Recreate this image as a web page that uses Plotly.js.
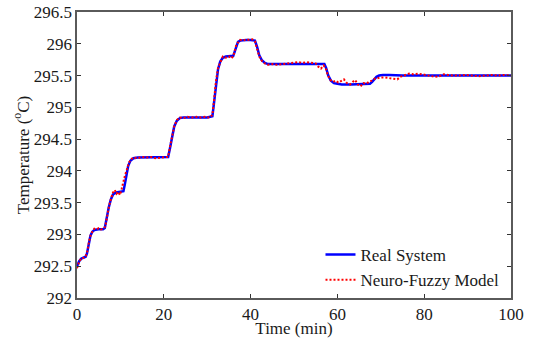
<!DOCTYPE html>
<html>
<head>
<meta charset="utf-8">
<script src="https://cdn.plot.ly/plotly-3.0.1.min.js"></script>
<style>html,body{margin:0;padding:0;background:#fff;}#chart{width:534px;height:338px;}</style>
</head>
<body>
<div id="chart"></div>
<script>
// Real System
const realTime = [0,0.5,1,1.5,2,2.3,2.7,3.1,3.5,4,5,6,6.4,6.8,7.3,7.8,8.3,9,10,10.7,11,11.4,11.8,12.3,13,14,16,18,20,21,21.4,21.9,22.4,23,23.7,24.5,26,28,30,31.2,31.6,32,32.5,33,33.6,34.3,35,36,36.3,36.7,37.1,37.6,38.3,39,40,41,41.5,42,42.6,43.3,44,45,50,55,57,57.4,57.9,58.5,59.2,60,61,63,65,67.5,68,68.5,69,69.6,70.5,72,75,80,85,90,95,100];
const realTemp = [292.50,292.58,292.62,292.64,292.65,292.70,292.85,292.98,293.04,293.07,293.08,293.08,293.10,293.25,293.42,293.55,293.63,293.66,293.67,293.68,293.78,293.95,294.08,294.16,294.20,294.21,294.21,294.21,294.21,294.22,294.35,294.55,294.70,294.79,294.83,294.84,294.84,294.84,294.84,294.86,295.10,295.40,295.60,295.72,295.78,295.80,295.80,295.81,295.87,295.97,296.03,296.05,296.06,296.06,296.06,296.05,295.95,295.82,295.74,295.70,295.68,295.68,295.68,295.68,295.68,295.62,295.50,295.42,295.38,295.37,295.36,295.36,295.36,295.37,295.40,295.45,295.48,295.50,295.51,295.51,295.50,295.50,295.50,295.50,295.50,295.50];
// Neuro-Fuzzy Model
const modelTime = [0,0.5,1,1.5,2,2.4,2.8,3.2,3.6,4,4.5,5,5.5,6,6.5,6.9,7.4,7.9,8.3,8.7,9.1,9.5,9.9,10.3,10.7,11.1,11.5,11.9,12.4,13,14,15,16,17,18,19,20,21,21.4,21.9,22.4,23,23.7,24.5,25.5,26.5,27.5,28.5,29.5,30.5,31.2,31.6,32,32.5,33,33.6,34.3,35,35.5,36,36.3,36.7,37.1,37.6,38.3,39,39.7,40.4,41,41.5,42,42.6,43.3,44,45,46,47,48,49,50,51,52,53,54,55,55.6,56.2,56.8,57.3,57.8,58.4,59,59.6,60.2,60.8,61.5,62.2,62.9,63.5,64.1,64.7,65.3,66,66.7,67.4,68,68.6,69.3,70,71,72,73,73.8,74.5,75.5,76.5,77.5,78.5,79.5,80.5,81.5,82.5,83.5,84.5,85.5,86.5,88,89.5,91,92.5,94,95.5,97,98.5,100];
const modelTemp = [292.47,292.57,292.63,292.63,292.66,292.74,292.90,293.00,293.05,293.09,293.08,293.10,293.08,293.09,293.12,293.28,293.45,293.58,293.66,293.70,293.64,293.67,293.62,293.72,293.85,293.94,294.02,294.12,294.18,294.21,294.20,294.22,294.21,294.22,294.20,294.21,294.22,294.22,294.37,294.56,294.70,294.80,294.84,294.83,294.85,294.84,294.85,294.84,294.85,294.84,294.88,295.12,295.40,295.62,295.70,295.80,295.78,295.80,295.77,295.80,295.88,295.98,296.02,296.06,296.05,296.07,296.06,296.07,296.04,295.93,295.80,295.73,295.69,295.67,295.68,295.67,295.68,295.68,295.69,295.70,295.71,295.70,295.71,295.70,295.69,295.64,295.61,295.66,295.62,295.50,295.43,295.40,295.42,295.39,295.41,295.44,295.38,295.36,295.40,295.43,295.36,295.33,295.38,295.37,295.41,295.42,295.45,295.46,295.47,295.47,295.46,295.45,295.44,295.48,295.51,295.53,295.52,295.53,295.52,295.51,295.49,295.48,295.49,295.52,295.51,295.50,295.50,295.51,295.50,295.49,295.50,295.51,295.50,295.51,295.50];
const seriesNames = ['Real System','Neuro-Fuzzy Model'];
const xTitle = 'Time (min)';
const yTitle = 'Temperature (<sup>o</sup>C)';

const serif = '"Liberation Serif", "Times New Roman", Times, serif';
const txt = '#1a1a1a';
const traces = [
  {x: realTime, y: realTemp, name: seriesNames[0], mode: 'lines', line: {color: '#0000ff', width: 2.5}},
  {x: modelTime, y: modelTemp, name: seriesNames[1], mode: 'lines', line: {color: '#ff0000', width: 2, dash: '2px,2px'}}
];
const axisCommon = {
  showgrid: false, zeroline: false, showline: true, mirror: 'ticks',
  linecolor: '#5a5a5a', linewidth: 1.6, ticks: 'inside', ticklen: 4, tickcolor: '#333', tickwidth: 1,
  tickfont: {family: serif, size: 17, color: txt}
};
const layout = {
  width: 534, height: 338,
  margin: {l: 77, r: 23, t: 12, b: 40},
  paper_bgcolor: '#fff', plot_bgcolor: '#fff',
  font: {family: serif, size: 17, color: txt},
  showlegend: true,
  legend: {x: 0.985, y: 0.0, xanchor: 'right', yanchor: 'bottom', bgcolor: 'rgba(255,255,255,0)',
           font: {family: serif, size: 17, color: txt}, tracegroupgap: 0, itemwidth: 30},
  xaxis: Object.assign({}, axisCommon, {range: [0, 100], dtick: 20, tick0: 0,
          title: {text: xTitle, font: {family: serif, size: 17, color: txt}, standoff: 0}}),
  yaxis: Object.assign({}, axisCommon, {range: [292, 296.5], dtick: 0.5, tick0: 292,
          title: {text: yTitle, font: {family: serif, size: 17, color: txt}, standoff: 0}})
};
Plotly.newPlot('chart', traces, layout, {displayModeBar: false, staticPlot: true});
</script>
</body>
</html>
